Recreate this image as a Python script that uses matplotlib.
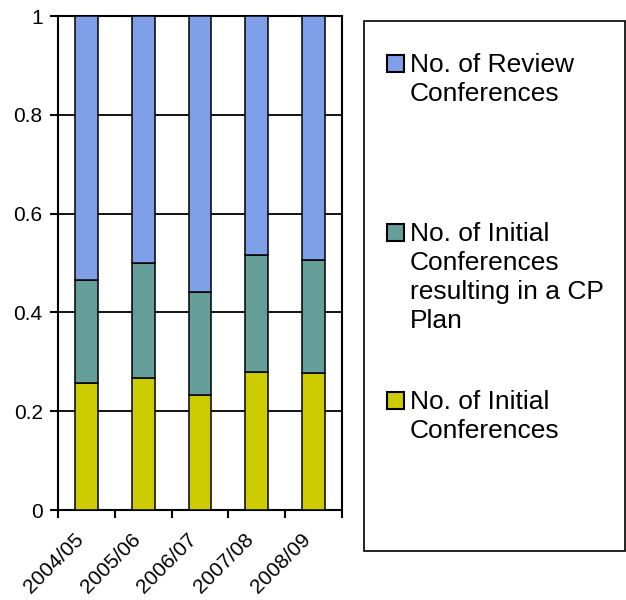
import matplotlib
matplotlib.use("Agg")
import matplotlib.pyplot as plt
from matplotlib.patches import Rectangle
from matplotlib.transforms import ScaledTranslation
import numpy as np

plt.rcParams["font.family"] = ["Liberation Sans", "DejaVu Sans"]

years = ["2004/05", "2005/06", "2006/07", "2007/08", "2008/09"]
initial = [0.257, 0.267, 0.233, 0.279, 0.277]
cp_plan = [0.209, 0.233, 0.208, 0.237, 0.229]
review = [1 - a - b for a, b in zip(initial, cp_plan)]

labels = ["No. of Review\nConferences",
          "No. of Initial\nConferences\nresulting in a CP\nPlan",
          "No. of Initial\nConferences"]
colors = ["#7f9fe8", "#669e99", "#cccc00"]


def main():
    fig = plt.figure(figsize=(6.26, 6.0), dpi=100)
    ax = fig.add_axes([58 / 626, 1 - 510 / 600, 284 / 626, 494 / 600])
    plot_data(ax)
    set_properties(ax, fig)
    draw_legend(fig)
    fig.savefig("out.png", dpi=100)


def plot_data(ax):
    x = np.arange(len(years))
    w = 0.4
    ax.bar(x, initial, w, color=colors[2], edgecolor="black", linewidth=1.1, zorder=3)
    ax.bar(x, cp_plan, w, bottom=initial, color=colors[1], edgecolor="black",
           linewidth=1.1, zorder=3)
    bottom2 = [a + b for a, b in zip(initial, cp_plan)]
    ax.bar(x, review, w, bottom=bottom2, color=colors[0], edgecolor="black",
           linewidth=1.1, zorder=3)


def set_properties(ax, fig):
    n = len(years)
    ax.set_xlim(-0.5, n - 0.5)
    ax.set_ylim(0, 1)
    ax.set_yticks([0, 0.2, 0.4, 0.6, 0.8, 1.0])
    ax.set_yticklabels(["0", "0.2", "0.4", "0.6", "0.8", "1"])
    ax.set_xticks(np.arange(n))
    ax.set_xticklabels(years, rotation=45, ha="right", va="center",
                       rotation_mode="anchor")
    ax.set_xticks(np.arange(n + 1) - 0.5, minor=True)
    ax.tick_params(axis="x", which="major", length=0, pad=19, labelsize=15)
    ax.tick_params(axis="x", which="minor", length=6, width=1.5, direction="out")
    ax.tick_params(axis="y", length=6, width=1.5, direction="out", labelsize=15, pad=5)
    shift = ScaledTranslation(-6 / 100, 0, fig.dpi_scale_trans)
    for lab in ax.get_xticklabels():
        lab.set_transform(lab.get_transform() + shift)
    for y in [0.2, 0.4, 0.6, 0.8, 1.0]:
        ax.axhline(y, color="black", linewidth=1.3, zorder=1)
    for s in ax.spines.values():
        s.set_linewidth(1.5)
        s.set_color("black")


def draw_legend(fig):
    W, H = 626, 600
    fig.patches.append(Rectangle((364 / W, 1 - 551 / H), 261 / W, 530 / H,
                                 transform=fig.transFigure, facecolor="white",
                                 edgecolor="black", linewidth=1.2))
    starts = [63, 232, 400]
    for lab, col, y in zip(labels, colors, starts):
        fig.patches.append(Rectangle((387 / W, 1 - (y + 8.5) / H), 17 / W, 17 / H,
                                     transform=fig.transFigure, facecolor=col,
                                     edgecolor="black", linewidth=1.5))
        fig.text(410 / W, 1 - (y - 10) / H, lab, fontsize=19, va="top", ha="left",
                 linespacing=1.26)


if __name__ == "__main__":
    main()
